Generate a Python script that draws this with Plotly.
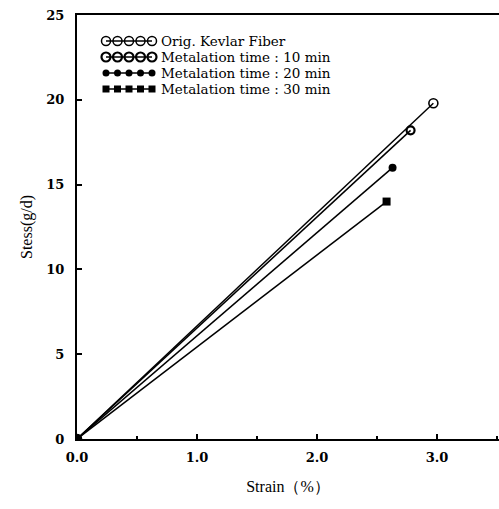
import plotly.graph_objects as go

# Stress-strain curves of Kevlar fibers (linear to break)
series_names = [
    "Orig. Kevlar Fiber",
    "Metalation time : 10 min",
    "Metalation time : 20 min",
    "Metalation time : 30 min",
]
strain_orig = [0.0, 2.97]
stress_orig = [0.0, 19.8]
strain_10 = [0.0, 2.78]
stress_10 = [0.0, 18.2]
strain_20 = [0.0, 2.63]
stress_20 = [0.0, 16.0]
strain_30 = [0.0, 2.58]
stress_30 = [0.0, 14.0]

x_tick_vals = [0.0, 1.0, 2.0, 3.0]
x_tick_text = ["0.0", "1.0", "2.0", "3.0"]
y_tick_vals = [0, 5, 10, 15, 20, 25]

W, H = 499, 509
ML, MR, MT, MB = 77, 0, 15, 70
X_MAX = 3.517
Y_MAX = 25

styles = [
    dict(symbol="circle-open", size=9, line=dict(width=1.6, color="black")),
    dict(symbol="circle-open", size=8, line=dict(width=2.2, color="black")),
    dict(symbol="circle", size=8, color="black"),
    dict(symbol="square", size=8, color="black"),
]
data = [(strain_orig, stress_orig), (strain_10, stress_10),
        (strain_20, stress_20), (strain_30, stress_30)]

fig = go.Figure()
for name, (xs, ys), st in zip(series_names, data, styles):
    fig.add_trace(go.Scatter(
        x=xs, y=ys, mode="lines+markers", name=name,
        line=dict(color="black", width=1.5),
        marker=st, showlegend=False,
    ))

# Common filled origin point
fig.add_trace(go.Scatter(x=[0], y=[0], mode="markers",
                         marker=dict(symbol="circle", size=9, color="black"),
                         showlegend=False, hoverinfo="skip"))

# Key: a row of small markers on a line for each series,
# placed on an overlay axis measured in pixels of the plotting area
key_x0, key_dx, key_n = 106, 11.5, 5
key_y0, key_dy = 41, 16
key_styles = [
    dict(symbol="circle-open", size=9, line=dict(width=1.5, color="black")),
    dict(symbol="circle-open", size=9, line=dict(width=2.2, color="black")),
    dict(symbol="circle", size=7, color="black"),
    dict(symbol="square", size=7, color="black"),
]
annotations = []
for i, (name, st) in enumerate(zip(series_names, key_styles)):
    yy = key_y0 + i * key_dy
    fig.add_trace(go.Scatter(
        x=[key_x0 + k * key_dx for k in range(key_n)], y=[yy] * key_n,
        xaxis="x2", yaxis="y2", mode="lines+markers",
        line=dict(color="black", width=1.5), marker=st,
        showlegend=False, hoverinfo="skip",
    ))
    annotations.append(dict(
        x=key_x0 + (key_n - 1) * key_dx + 8, y=yy, xref="x2", yref="y2",
        text=name, showarrow=False, xanchor="left", yanchor="middle",
        borderpad=0,
        font=dict(family="DejaVu Serif", size=13.5, color="black"),
    ))

tick_font = dict(family="DejaVu Serif", size=13, color="black", weight="bold")
title_font = dict(family="Liberation Serif", size=16, color="black")

fig.update_layout(
    width=W, height=H,
    margin=dict(l=ML, r=MR, t=MT, b=MB),
    paper_bgcolor="white", plot_bgcolor="white",
    annotations=annotations,
    xaxis=dict(
        range=[0, X_MAX], tickvals=x_tick_vals, ticktext=x_tick_text,
        showgrid=False, zeroline=False, showline=True, linecolor="black",
        linewidth=2, mirror=True, ticks="inside", ticklen=5, tickwidth=1.5,
        tickcolor="black", tickfont=tick_font, ticklabelstandoff=5,
        minor=dict(dtick=0.5, tick0=0, ticks="inside", ticklen=3,
                   tickcolor="black"),
        title=dict(text="Strain（%）", font=title_font, standoff=17),
    ),
    yaxis=dict(
        range=[0, Y_MAX], tickvals=y_tick_vals,
        showgrid=False, zeroline=False, showline=True, linecolor="black",
        linewidth=2, ticks="inside", ticklen=5, tickwidth=1.5,
        tickcolor="black", tickfont=tick_font, ticklabelstandoff=8,
        title=dict(text="Stess(g/d)", font=title_font, standoff=10),
    ),
    xaxis2=dict(overlaying="x", range=[ML, W - MR], visible=False),
    yaxis2=dict(overlaying="y", range=[H - MB, MT], visible=False),
)

fig.write_html("out.html")
